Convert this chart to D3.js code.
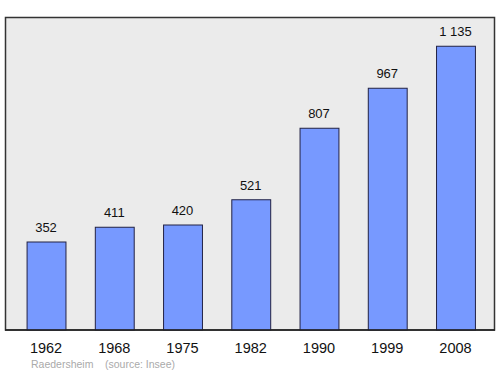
<!DOCTYPE html>
<html><head><meta charset="utf-8">
<script src="https://cdn.jsdelivr.net/npm/d3@7"></script>
<style>body{margin:0;background:#fff}svg{display:block}</style>
</head><body>
<script>
const years = ["1962","1968","1975","1982","1990","1999","2008"];
const populations = [352, 411, 420, 521, 807, 967, 1135];
const valueLabels = ["352","411","420","521","807","967","1 135"];
const place = "Raedersheim";
const source = "(source: Insee)";

const W = 500, H = 374;
const svg = d3.select("body").append("svg").attr("width", W).attr("height", H);

svg.append("rect").attr("x",5.5).attr("y",17.5).attr("width",489).attr("height",312.5)
  .attr("fill","#ebebeb").attr("stroke","#333").attr("stroke-width",1.5);

const x = d3.scaleBand().domain(years).range([11.9, 489.6]).paddingInner(0.43).paddingOuter(0.215);
const y = d3.scaleLinear().domain([0, 1252]).range([330, 17]);

svg.selectAll("rect.bar").data(years).enter().append("rect").attr("class","bar")
  .attr("x", d => x(d)+0.5).attr("y", (d,i) => y(populations[i]))
  .attr("width", x.bandwidth()).attr("height", (d,i) => y(0) - y(populations[i]))
  .attr("fill","#7799ff").attr("stroke","#222244").attr("stroke-width",1);

svg.selectAll("text.val").data(years).enter().append("text").attr("class","val")
  .attr("x", d => x(d) + x.bandwidth()/2).attr("y", (d,i) => y(populations[i]) - 10)
  .attr("text-anchor","middle").attr("font-family","Liberation Sans, Arial, sans-serif")
  .attr("font-size",13).attr("fill","#111").text((d,i) => valueLabels[i]);

svg.append("line").attr("x1",5).attr("x2",495).attr("y1",330).attr("y2",330).attr("stroke","#222").attr("stroke-width",1.5);

svg.selectAll("text.yr").data(years).enter().append("text").attr("class","yr")
  .attr("x", d => x(d) + x.bandwidth()/2).attr("y", 353)
  .attr("text-anchor","middle").attr("font-family","Liberation Sans, Arial, sans-serif")
  .attr("font-size",14.5).attr("fill","#111").text(d => d);

svg.append("text").attr("x",31).attr("y",368).attr("font-family","Liberation Sans, Arial, sans-serif")
  .attr("font-size",10.5).attr("fill","#aaa").text(place);
svg.append("text").attr("x",105).attr("y",368).attr("font-family","Liberation Sans, Arial, sans-serif")
  .attr("font-size",10.5).attr("fill","#aaa").text(source);
</script>
</body></html>
